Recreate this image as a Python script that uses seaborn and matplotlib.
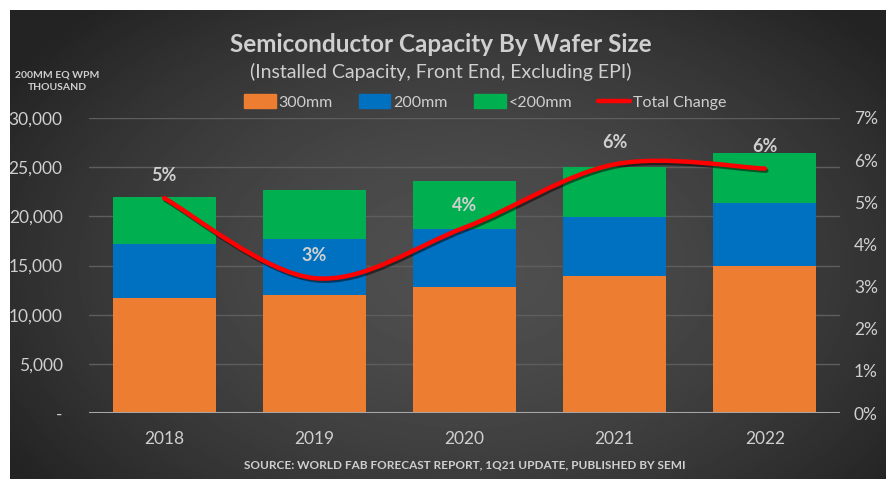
import numpy as np
import pandas as pd
import matplotlib
matplotlib.use("Agg")
import matplotlib.pyplot as plt
import seaborn as sns
from matplotlib.path import Path
from matplotlib.patches import PathPatch, Patch
from matplotlib.lines import Line2D
import matplotlib.patheffects as pe

years = ['2018', '2019', '2020', '2021', '2022']
cap_300mm = [11700, 12000, 12850, 13900, 14950]
cap_200mm = [5500, 5730, 5840, 6070, 6380]
cap_lt200 = [4770, 4955, 4940, 5090, 5150]
total_change = [0.051, 0.032, 0.044, 0.059, 0.058]
change_labels = ['5%', '3%', '4%', '6%', '6%']

df = pd.DataFrame({'Year': years, '300mm': cap_300mm, '200mm': cap_200mm, '<200mm': cap_lt200})
df['top_200'] = df['300mm'] + df['200mm']
df['total'] = df['top_200'] + df['<200mm']

c_orange = '#ED7D31'
c_blue = '#0070C0'
c_green = '#00B050'
c_red = '#FF0000'
txt = '#CFCFCF'

sns.set_style('dark')
plt.rcParams['font.family'] = ['Lato', 'DejaVu Sans']

fig = plt.figure(figsize=(8.86, 4.79), dpi=100)
fig.patch.set_facecolor('white')

# dark gradient background panel
bg = fig.add_axes([10 / 886, 0, 1 - 10 / 886, 1 - 10 / 479])
yy, xx = np.mgrid[0:1:300j, 0:1:500j]
r = np.sqrt(((xx - 0.52) / 0.62) ** 2 + ((yy - 0.55) / 0.75) ** 2)
shade = 0.31 - 0.17 * np.clip(r, 0, 1) ** 1.6
bg.imshow(shade, cmap='gray', vmin=0, vmax=1, aspect='auto', extent=[0, 1, 0, 1])
bg.axis('off')

ax = fig.add_axes([89 / 886, 1 - 413 / 479, (840 - 89) / 886, (413 - 118) / 479])
ax.patch.set_alpha(0)

bw = 0.685
for col, c in [('total', c_green), ('top_200', c_blue), ('300mm', c_orange)]:
    sns.barplot(data=df, x='Year', y=col, color=c, saturation=1, width=bw, ax=ax,
                linewidth=0, edgecolor=c, zorder=2)

ax.set_xlim(-0.5, 4.5)
ax.set_ylim(0, 30000)
ax.set_yticks(range(0, 30001, 5000))
ax.set_yticklabels(['-'] + [f'{v:,}' for v in range(5000, 30001, 5000)])
ax.grid(axis='y', color='#5E5E5E', linewidth=1, zorder=0)
ax.grid(axis='x', visible=False)
ax.set_axisbelow(True)
for s in ax.spines.values():
    s.set_visible(False)
ax.axhline(0, color='#A6A6A6', linewidth=1.5, zorder=3)
ax.tick_params(axis='both', colors=txt, labelsize=12.5, length=0)
ax.tick_params(axis='y', pad=19)
ax.tick_params(axis='x', pad=13)
ax.set_xlabel('')
ax.set_ylabel('')

# secondary axis: total change, smoothed line
ax2 = ax.twinx()
ax2.set_ylim(0, 0.07)
ax2.set_yticks(np.arange(0, 0.0701, 0.01))
ax2.set_yticklabels([f'{i}%' for i in range(8)])
ax2.tick_params(axis='y', colors=txt, labelsize=12.5, length=0, pad=10)
ax2.grid(False)
for s in ax2.spines.values():
    s.set_visible(False)

pts = np.column_stack([np.arange(len(years)), total_change])
verts = [tuple(pts[0])]
codes = [Path.MOVETO]
n = len(pts)
for i in range(n - 1):
    p0 = pts[max(i - 1, 0)]
    p1 = pts[i]
    p2 = pts[i + 1]
    p3 = pts[min(i + 2, n - 1)]
    verts += [tuple(p1 + (p2 - p0) / 6), tuple(p2 - (p3 - p1) / 6), tuple(p2)]
    codes += [Path.CURVE4] * 3
curve = PathPatch(Path(verts, codes), facecolor='none', edgecolor=c_red, linewidth=3.2,
                  capstyle='round', zorder=5,
                  path_effects=[pe.SimpleLineShadow(offset=(1, -1.5), alpha=0.5), pe.Normal()])
ax2.add_patch(curve)

for i, (v, lab) in enumerate(zip(total_change, change_labels)):
    ax2.annotate(lab, (i, v), xytext=(0, 16), textcoords='offset points', ha='center', va='center',
                 color=txt, fontsize=13, fontweight='bold', zorder=6)

# titles and labels
fig.text(0.497, 1 - 44 / 479, 'Semiconductor Capacity By Wafer Size', ha='center', va='center',
         color=txt, fontsize=17.5, fontweight='bold')
fig.text(0.497, 1 - 72 / 479, '(Installed Capacity, Front End, Excluding EPI)', ha='center', va='center',
         color=txt, fontsize=14)
fig.text(57 / 886, 1 - 81 / 479, '200MM EQ WPM\nTHOUSAND', ha='center', va='center',
         color=txt, fontsize=7.5, fontweight='bold', linespacing=1.5)
fig.text(465 / 886, 1 - 465 / 479, 'SOURCE: WORLD FAB FORECAST REPORT, 1Q21 UPDATE, PUBLISHED BY SEMI',
         ha='center', va='center', color=txt, fontsize=8.5, fontweight='bold')

handles = [Patch(color=c_orange), Patch(color=c_blue), Patch(color=c_green),
           Line2D([0], [0], color=c_red, linewidth=3.2)]
fig.legend(handles, ['300mm', '200mm', '<200mm', 'Total Change'], loc='center',
           bbox_to_anchor=(485 / 886, 1 - 102 / 479), ncol=4, frameon=False,
           labelcolor=txt, fontsize=11.5, handlelength=2.0, handleheight=1.0,
           handletextpad=0.2, columnspacing=1.6)

fig.savefig('out.png', dpi=100, facecolor=fig.get_facecolor())
